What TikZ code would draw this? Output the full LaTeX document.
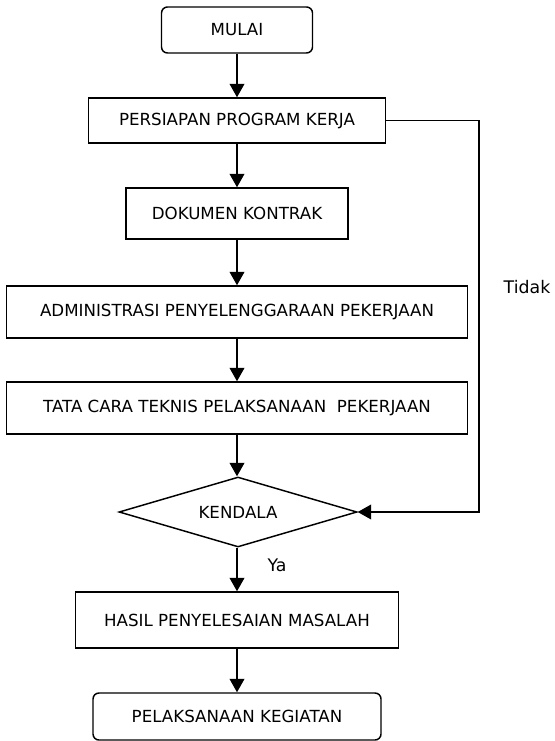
\documentclass[tikz,border=0pt]{standalone}
\usepackage{fontspec}
\setmainfont{DejaVu Sans}
\usetikzlibrary{shapes.geometric,arrows.meta}

\begin{document}
\begin{tikzpicture}[
    x=0.75pt, y=-0.75pt,
    every node/.style={font=\fontsize{12.5}{15}\selectfont},
    box/.style={rectangle, draw, line width=1.1pt, inner sep=0pt, align=center},
    startbox/.style={box, rounded corners=4.5pt},
    decision/.style={diamond, draw, line width=1.1pt, inner sep=0pt, aspect=3.4},
    arrow/.style={-{Triangle[length=10pt,width=11pt]}, line width=1.1pt},
]
\useasboundingbox (0,0) rectangle (555,741);
\node[startbox, minimum width=113.25pt, minimum height=34.5pt] (mulai) at (237,30) {MULAI};
\node[box, minimum width=222.75pt, minimum height=33.75pt] (persiapan) at (237,120.5) {PERSIAPAN PROGRAM KERJA};
\node[box, minimum width=166.5pt, minimum height=38.25pt] (dokumen) at (237,213.5) {DOKUMEN KONTRAK};
\node[box, minimum width=345.75pt, minimum height=39pt] (admin) at (237,312) {ADMINISTRASI PENYELENGGARAAN PEKERJAAN};
\node[box, minimum width=345.75pt, minimum height=39pt] (tatacara) at (237,408) {TATA CARA TEKNIS PELAKSANAAN\ \ PEKERJAAN};
\node[decision, minimum width=178.5pt, minimum height=52.5pt] (kendala) at (238,512) {KENDALA};
\node[box, minimum width=242.25pt, minimum height=42pt] (hasil) at (237,620) {HASIL PENYELESAIAN MASALAH};
\node[startbox, minimum width=216pt, minimum height=35.25pt] (kegiatan) at (237,716.5) {PELAKSANAAN KEGIATAN};
\coordinate (balik) at (479,120.5);
\draw[arrow] (mulai) -- (persiapan);
\draw[arrow] (persiapan) -- (dokumen);
\draw[arrow] (dokumen) -- (admin);
\draw[arrow] (admin) -- (tatacara);
\draw[arrow] (tatacara) -- (tatacara |- kendala.north);
\draw[arrow] (kendala.south -| hasil) -- (hasil);
\draw[arrow] (hasil) -- (kegiatan);
\draw[arrow] (persiapan.east) -- (balik) |- (kendala.east);
\node[font=\fontsize{13}{15}\selectfont] (tidak) at (527,287) {Tidak};
\node[font=\fontsize{13}{15}\selectfont] (ya) at (277,565) {Ya};
\end{tikzpicture}
\end{document}
